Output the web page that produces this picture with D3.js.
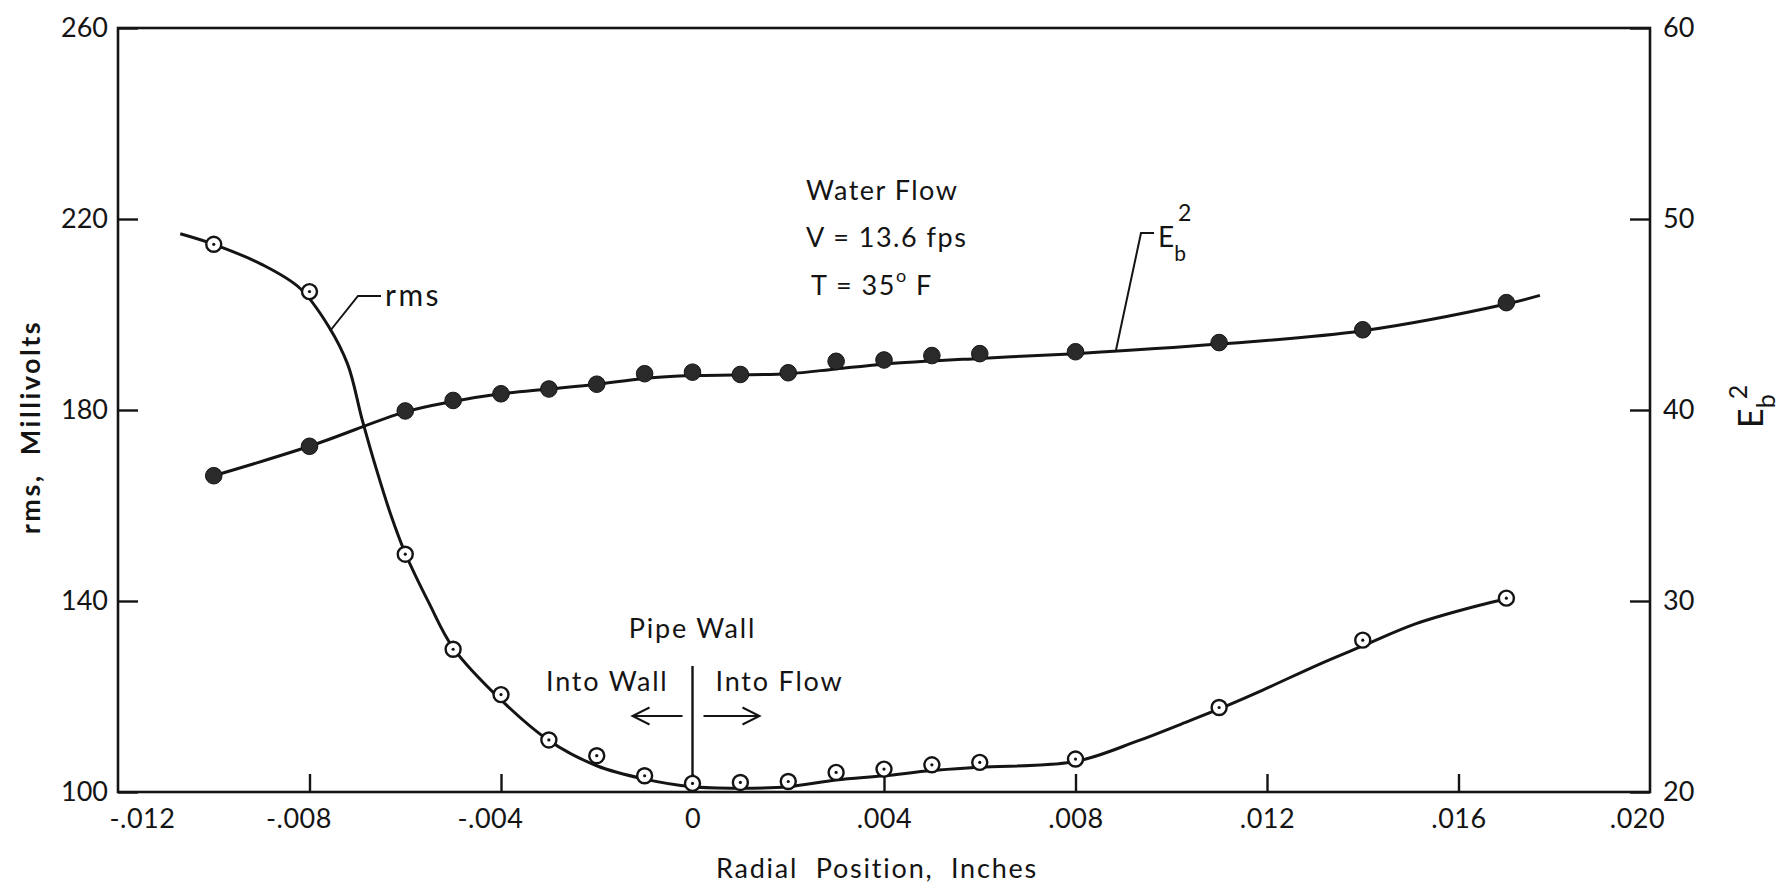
<!DOCTYPE html>
<html>
<head>
<meta charset="utf-8">
<script src="https://cdn.jsdelivr.net/npm/d3@7"></script>
<style>
  html, body { margin: 0; padding: 0; background: #fff; }
  svg { display: block; }
  text { font-family: Lato, "Noto Sans", sans-serif; fill: #141414; }
</style>
</head>
<body>
<svg id="chart" width="1787" height="894"></svg>
<script>
// Radial positions (inches) of the measured stations
const positions = [-0.010, -0.008, -0.006, -0.005, -0.004, -0.003, -0.002, -0.001, 0,
                   0.001, 0.002, 0.003, 0.004, 0.005, 0.006, 0.008, 0.011, 0.014, 0.017];
// rms output, millivolts (left axis)
const rmsValues = [214.7, 204.8, 149.8, 129.9, 120.4, 110.9, 107.6, 103.4, 101.8,
                   102.0, 102.2, 104.1, 104.8, 105.7, 106.2, 106.9, 117.7, 131.8, 140.6];
// Eb^2 (right axis)
const ebValues = [36.56, 38.1, 39.95, 40.5, 40.85, 41.1, 41.35, 41.9, 41.98,
                  41.86, 41.95, 42.55, 42.62, 42.85, 42.95, 43.05, 43.53, 44.2, 45.62];

// Faired curve through the rms data
const rmsCurveX = [-0.0107, -0.0100, -0.0090, -0.0082, -0.0076, -0.0072, -0.0069, -0.0066, -0.0063,
                   -0.0060, -0.0055, -0.0050, -0.0040, -0.0030, -0.0020, -0.0010, 0, 0.0010, 0.0020,
                   0.0030, 0.0040, 0.0050, 0.0060, 0.0080, 0.0093, 0.0103, 0.0110, 0.0119, 0.0131,
                   0.0140, 0.0151, 0.0164, 0.0170];
const rmsCurveY = [216.9, 214.7, 210.5, 205.5, 197.5, 189.5, 178.0, 167.5, 158.0,
                   150.0, 139.5, 130.2, 119.3, 110.8, 105.5, 102.7, 101.1, 100.8, 101.1,
                   102.5, 103.4, 104.5, 105.2, 106.4, 110.7, 114.6, 117.4, 121.3, 126.8,
                   130.6, 135.2, 139.0, 140.4];
// Faired curve through the Eb^2 data
const ebCurveX = [-0.010, -0.008, -0.006, -0.005, -0.004, -0.003, -0.002, -0.001, 0, 0.002,
                  0.003, 0.004, 0.006, 0.008, 0.011, 0.014, 0.017, 0.0177];
const ebCurveY = [36.56, 38.1, 39.9, 40.45, 40.85, 41.1, 41.35, 41.65, 41.8, 41.9,
                  42.15, 42.4, 42.7, 42.95, 43.45, 44.15, 45.55, 46.0];

// Axis ticks
const xLabelValues = [-0.012, -0.008, -0.004, 0, 0.004, 0.008, 0.012, 0.016, 0.020];
const xLabelText = ["-.012", "-.008", "-.004", "0", ".004", ".008", ".012", ".016", ".020"];
const xTickMarks = [-0.008, -0.004, 0, 0.004, 0.008, 0.012, 0.016];
const leftTicks = [100, 140, 180, 220, 260];
const rightTicks = [20, 30, 40, 50, 60];

const svg = d3.select("#chart");
const plot = { left: 118, right: 1650, top: 28, bottom: 792 };

const x = d3.scaleLinear().domain([-0.012, 0.020]).range([plot.left, plot.right]);
const yL = d3.scaleLinear().domain([100, 260]).range([plot.bottom, plot.top]);
const yR = d3.scaleLinear().domain([20, 60]).range([plot.bottom, plot.top]);

const ink = "#141414";

// Frame
svg.append("rect")
  .attr("x", plot.left).attr("y", plot.top)
  .attr("width", plot.right - plot.left).attr("height", plot.bottom - plot.top)
  .attr("fill", "none").attr("stroke", ink).attr("stroke-width", 2.6);

function styleAxis(g) {
  g.select(".domain").remove();
  g.selectAll(".tick line").attr("stroke", ink).attr("stroke-width", 2.4);
  g.selectAll(".tick text").attr("fill", ink).style("font-size", "27px");
}

// Bottom tick marks (pointing inward)
svg.append("g").attr("transform", `translate(0,${plot.bottom})`)
  .call(d3.axisBottom(x).tickValues(xTickMarks).tickSizeInner(-18).tickSizeOuter(0).tickFormat(""))
  .call(styleAxis);

// Bottom tick labels
const xLab = svg.append("g").attr("transform", `translate(0,${plot.bottom})`)
  .call(d3.axisBottom(x).tickValues(xLabelValues).tickSizeInner(0).tickSizeOuter(0)
    .tickPadding(17).tickFormat((d, i) => xLabelText[i]))
  .call(styleAxis);
xLab.selectAll(".tick text")
  .style("letter-spacing", "0.5px")
  .attr("dx", (d, i) => i === 0 ? 24 : i === xLabelValues.length - 1 ? -13 : (d < 0 ? -11 : 0));

// Left axis
svg.append("g").attr("transform", `translate(${plot.left},0)`)
  .call(d3.axisLeft(yL).tickValues(leftTicks).tickSizeInner(-20).tickSizeOuter(0).tickPadding(10))
  .call(styleAxis);

// Right axis
svg.append("g").attr("transform", `translate(${plot.right},0)`)
  .call(d3.axisRight(yR).tickValues(rightTicks).tickSizeInner(-20).tickSizeOuter(0).tickPadding(13))
  .call(styleAxis);

// Axis titles
svg.append("text")
  .attr("transform", `translate(40,427) rotate(-90)`)
  .attr("text-anchor", "middle")
  .style("font-size", "27px").style("font-weight", "700")
  .style("letter-spacing", "2.5px").style("white-space", "pre")
  .text("rms,  Millivolts");

svg.append("text")
  .attr("x", 877).attr("y", 878)
  .attr("text-anchor", "middle")
  .style("font-size", "27px").style("letter-spacing", "1.8px").style("white-space", "pre")
  .text("Radial  Position,  Inches");

const rTitle = svg.append("text")
  .attr("transform", `translate(1763,428) rotate(-90)`)
  .style("font-size", "34px");
rTitle.append("tspan").text("E");
rTitle.append("tspan").attr("dy", 12).style("font-size", "25px").text("b");
rTitle.append("tspan").attr("dx", -5).attr("dy", -28).style("font-size", "25px").text("2");

// Curves
const rmsLine = d3.line().x(d => x(d[0])).y(d => yL(d[1])).curve(d3.curveCatmullRom.alpha(0.5));
const ebLine = d3.line().x(d => x(d[0])).y(d => yR(d[1])).curve(d3.curveCatmullRom.alpha(0.5));

svg.append("path")
  .datum(rmsCurveX.map((v, i) => [v, rmsCurveY[i]]))
  .attr("d", rmsLine)
  .attr("fill", "none").attr("stroke", ink).attr("stroke-width", 3);

svg.append("path")
  .datum(ebCurveX.map((v, i) => [v, ebCurveY[i]]))
  .attr("d", ebLine)
  .attr("fill", "none").attr("stroke", ink).attr("stroke-width", 3);

// Eb^2 points (filled)
svg.append("g").selectAll("circle")
  .data(positions.map((p, i) => [p, ebValues[i]]))
  .join("circle")
  .attr("cx", d => x(d[0])).attr("cy", d => yR(d[1]))
  .attr("r", 8.3).attr("fill", "#2a2a2a").attr("stroke", ink).attr("stroke-width", 1);

// rms points (open with centre dot)
const rmsPts = svg.append("g").selectAll("g")
  .data(positions.map((p, i) => [p, rmsValues[i]]))
  .join("g")
  .attr("transform", d => `translate(${x(d[0])},${yL(d[1])})`);
rmsPts.append("circle").attr("r", 7.5).attr("fill", "#fff").attr("stroke", ink).attr("stroke-width", 2.4);
rmsPts.append("circle").attr("r", 1.6).attr("fill", ink);

// Curve labels with leaders
const leader = d3.line();
svg.append("path")
  .attr("d", leader([[381, 296], [358, 296], [330, 331]]))
  .attr("fill", "none").attr("stroke", ink).attr("stroke-width", 2);
svg.append("text").attr("x", 385).attr("y", 306)
  .style("font-size", "30px").style("letter-spacing", "2.5px").text("rms");

svg.append("path")
  .attr("d", leader([[1154, 233], [1141, 233], [1116, 350]]))
  .attr("fill", "none").attr("stroke", ink).attr("stroke-width", 2);
const ebLab = svg.append("text").attr("x", 1158).attr("y", 247).style("font-size", "28px");
ebLab.append("tspan").text("E");
ebLab.append("tspan").attr("dy", 14).style("font-size", "21px").text("b");
ebLab.append("tspan").attr("dx", -8).attr("dy", -40).style("font-size", "23px").text("2");

// Test conditions
const cond = svg.append("g").style("font-size", "27px").style("letter-spacing", "1.5px").style("white-space", "pre");
cond.append("text").attr("x", 806).attr("y", 200).text("Water  Flow");
cond.append("text").attr("x", 806).attr("y", 247).text("V  =  13.6  fps");
const tLine = cond.append("text").attr("x", 811).attr("y", 295);
tLine.append("tspan").text("T  =  35");
tLine.append("tspan").attr("dy", -13).style("font-size", "18px").text("o");
tLine.append("tspan").attr("dy", 13).text("  F");

// Pipe wall marker
const x0 = x(0);
svg.append("line").attr("x1", x0).attr("x2", x0).attr("y1", 666).attr("y2", 776)
  .attr("stroke", ink).attr("stroke-width", 2.4);
const wall = svg.append("g").style("font-size", "27px").style("letter-spacing", "1.8px").style("white-space", "pre");
wall.append("text").attr("x", x0).attr("y", 638).attr("text-anchor", "middle").text("Pipe  Wall");
wall.append("text").attr("x", x0 - 24).attr("y", 691).attr("text-anchor", "end").text("Into  Wall");
wall.append("text").attr("x", x0 + 23).attr("y", 691).text("Into  Flow");

const arrows = [
  [[x0 - 10, 716], [x0 - 60, 716], [[x0 - 43, 707.5], [x0 - 60, 716], [x0 - 43, 724.5]]],
  [[x0 + 11, 716], [x0 + 67, 716], [[x0 + 50, 707.5], [x0 + 67, 716], [x0 + 50, 724.5]]]
];
arrows.forEach(a => {
  svg.append("path").attr("d", leader([a[0], a[1]])).attr("stroke", ink).attr("stroke-width", 2).attr("fill", "none");
  svg.append("path").attr("d", leader(a[2])).attr("stroke", ink).attr("stroke-width", 2).attr("fill", "none");
});
</script>
</body>
</html>
